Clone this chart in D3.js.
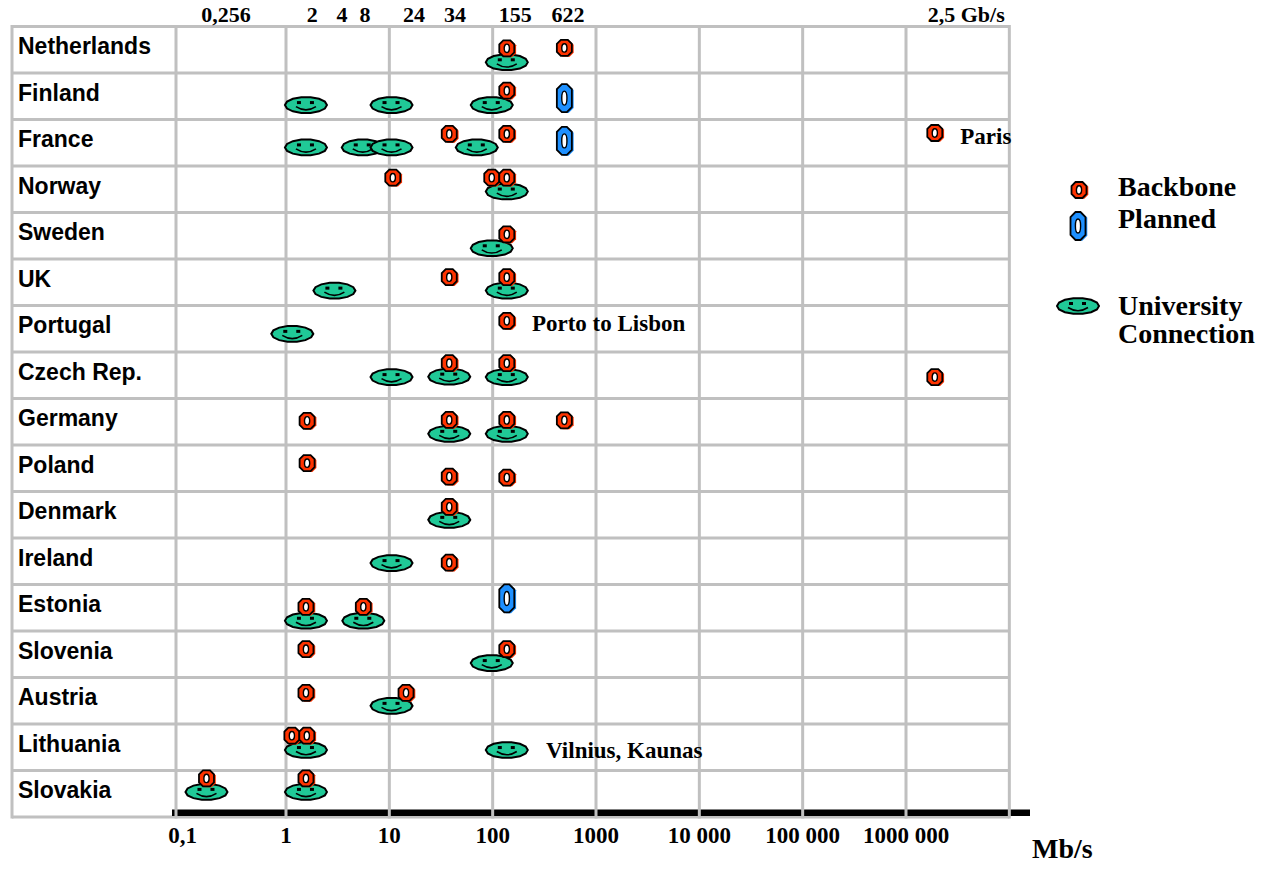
<!DOCTYPE html>
<html><head><meta charset="utf-8">
<script src="https://cdn.jsdelivr.net/npm/d3@7"></script>
<style>body{margin:0;background:#fff} svg{display:block}</style>
</head><body>
<svg id="c" width="1263" height="870"></svg>
<script>
// ---------------- DATA ----------------
const countries = ["Netherlands","Finland","France","Norway","Sweden","UK","Portugal","Czech Rep.",
  "Germany","Poland","Denmark","Ireland","Estonia","Slovenia","Austria","Lithuania","Slovakia"];

// [country, Mb/s, place inside the row (0 = top, 1 = bottom)]
const backbone = [
  ["Netherlands",137,0.47],["Netherlands",494,0.46],
  ["Finland",137,0.38],
  ["France",38,0.31],["France",137,0.31],["France",1.9e6,0.29],
  ["Norway",10.8,0.25],["Norway",98,0.25],["Norway",137,0.25],
  ["Sweden",137,0.47],
  ["UK",38,0.39],["UK",137,0.39],
  ["Portugal",137,0.33],
  ["Czech Rep.",38,0.24],["Czech Rep.",137,0.24],["Czech Rep.",1.9e6,0.54],
  ["Germany",1.6,0.48],["Germany",38,0.46],["Germany",137,0.46],["Germany",494,0.47],
  ["Poland",1.6,0.39],["Poland",38,0.68],["Poland",137,0.70],
  ["Denmark",38,0.33],
  ["Ireland",38,0.53],
  ["Estonia",1.56,0.48],["Estonia",5.6,0.48],
  ["Slovenia",1.56,0.39],["Slovenia",137,0.39],
  ["Austria",1.56,0.33],["Austria",14.5,0.33],
  ["Lithuania",1.14,0.25],["Lithuania",1.59,0.25],
  ["Slovakia",0.17,0.17],["Slovakia",1.56,0.17]
];
const planned = [["Finland",494,0.54],["France",494,0.46],["Estonia",137,0.30]];
const university = [
  ["Netherlands",137,0.77],
  ["Finland",1.56,0.69],["Finland",10.5,0.69],["Finland",98,0.69],
  ["France",1.56,0.60],["France",5.53,0.60],["France",10.5,0.60],["France",70.2,0.60],
  ["Norway",137,0.55],
  ["Sweden",98,0.77],
  ["UK",2.94,0.68],["UK",137,0.68],
  ["Portugal",1.15,0.61],
  ["Czech Rep.",10.5,0.54],["Czech Rep.",38,0.53],["Czech Rep.",137,0.54],
  ["Germany",38,0.76],["Germany",137,0.76],
  ["Denmark",38,0.61],
  ["Ireland",10.5,0.54],
  ["Estonia",1.56,0.78],["Estonia",5.6,0.78],
  ["Slovenia",98,0.69],
  ["Austria",10.5,0.61],
  ["Lithuania",1.56,0.56],["Lithuania",137,0.56],
  ["Slovakia",0.17,0.46],["Slovakia",1.56,0.46]
];
// [country, Mb/s where text starts, place inside row, text]
const notes = [["France",3.35e6,0.53,"Paris"],["Portugal",240,0.54,"Porto to Lisbon"],["Lithuania",329,0.73,"Vilnius, Kaunas"]];

const topTickLabels = ["0,256","2","4","8","24","34","155","622","2,5 Gb/s"];
const topTickAt     = [0.262, 1.79, 3.48, 5.82, 17.3, 43.3, 165, 537, 3.83e6];
const bottomTickValues = [0.1,1,10,100,1000,1e4,1e5,1e6];
const bottomTickLabels = ["0,1","1","10","100","1000","10 000","100 000","1000 000"];
const gridDecades = [1,10,100,1000,1e4,1e5,1e6,1e7];
const legendItems = [["backbone","Backbone"],["planned","Planned"],["university","University","Connection"]];

(function(){
// ---------------- LAYOUT ----------------
const svg = d3.select("#c");
const tableLeft = 12, labelRight = 176, tTop = 26.5, rowH = 46.5;
const tBottom = tTop + rowH * countries.length;
const x = d3.scaleLog().domain([1, 1e6]).range([286, 906]);
const yBand = d3.scaleBand().domain(countries).range([tTop, tBottom]);
const yIn = d3.scaleLinear().domain([0,1]).range([0, yBand.bandwidth()]);
const yOf = (c, f) => yBand(c) + yIn(f);
const tRight = x(1e7);
const GRID = "#c0c0c0";
const RED = "#ff3300", BLUE = "#1e90ff", GREEN = "#20c997";
const serif = "'Liberation Serif','Times New Roman',serif";
const sans = "'Liberation Sans',Arial,sans-serif";

// horizontal lines
const hLines = countries.map(c => yBand(c)).concat([tBottom]);
svg.append("g").selectAll("line").data(hLines).join("line")
  .attr("x1", tableLeft).attr("x2", tRight).attr("y1", d => d).attr("y2", d => d)
  .attr("stroke", GRID).attr("stroke-width", 3);

// black axis bar
svg.append("rect").attr("x", labelRight - 4).attr("y", tBottom - 7.5)
  .attr("width", 1030 - (labelRight - 4)).attr("height", 6.5).attr("fill", "#000");

// vertical lines
const vLines = [tableLeft, labelRight].concat(gridDecades.map(d => x(d)));
svg.append("g").selectAll("line").data(vLines).join("line")
  .attr("x1", d => d).attr("x2", d => d).attr("y1", tTop - 1.5).attr("y2", tBottom + 1.5)
  .attr("stroke", GRID).attr("stroke-width", 3);

// country labels
svg.append("g").selectAll("text").data(countries).join("text")
  .attr("x", 18).attr("y", d => yBand(d) + rowH * 0.6)
  .attr("font-family", sans).attr("font-weight", "bold").attr("font-size", 23)
  .text(d => d);

// top labels
svg.append("g").selectAll("text").data(topTickLabels).join("text")
  .attr("x", (d, i) => x(topTickAt[i])).attr("y", 22)
  .attr("text-anchor", "middle").attr("font-family", serif).attr("font-weight", "bold")
  .attr("font-size", 22).text(d => d);

// bottom labels
svg.append("g").selectAll("text").data(bottomTickValues).join("text")
  .attr("x", d => x(d)).attr("y", 843)
  .attr("text-anchor", "middle").attr("font-family", serif).attr("font-weight", "bold")
  .attr("font-size", 23).text((d, i) => bottomTickLabels[i]);
svg.append("text").attr("x", 1032).attr("y", 858).attr("font-family", serif)
  .attr("font-weight", "bold").attr("font-size", 28).text("Mb/s");

// ---------------- MARKERS ----------------
function octa(w, h, c) {
  const a = w/2, b = h/2;
  return `M${-a+c},${-b}L${a-c},${-b}L${a},${-b+c}L${a},${b-c}L${a-c},${b}L${-a+c},${b}L${-a},${b-c}L${-a},${-b+c}Z`;
}
function blobPath(rx, ry, n) {
  const pts = d3.range(n).map(i => {
    const t = i / n * 2 * Math.PI;
    return [rx * Math.cos(t), ry * Math.sin(t)];
  });
  return "M" + pts.map(p => p.join(",")).join("L") + "Z";
}
function drawRing(g, color, w, h, c, hx, hy) {
  g.append("path").attr("d", octa(w, h, c)).attr("transform", "translate(1.8,0.8)").attr("fill", color);
  g.append("path").attr("d", octa(w, h, c)).attr("fill", color).attr("stroke", "#000").attr("stroke-width", 1.8);
  g.append("ellipse").attr("rx", hx).attr("ry", hy).attr("fill", "#fff").attr("stroke", "#000").attr("stroke-width", 1.4);
}
function drawUniversity(g) {
  g.append("path").attr("d", blobPath(21, 8, 14)).attr("fill", GREEN).attr("stroke", "#000").attr("stroke-width", 2);
  g.append("rect").attr("x", -9).attr("y", -4).attr("width", 4).attr("height", 3).attr("fill", "#000");
  g.append("rect").attr("x", 4).attr("y", -4).attr("width", 4).attr("height", 3).attr("fill", "#000");
  g.append("path").attr("d", "M-10,1.5Q0,8 10,1.5").attr("fill", "none").attr("stroke", "#000").attr("stroke-width", 1.6);
}
const drawBackbone = g => drawRing(g, RED, 15, 16, 4, 2.6, 4.2);
const drawPlanned = g => drawRing(g, BLUE, 15, 28, 5, 2.6, 7);
const drawers = {backbone: drawBackbone, planned: drawPlanned, university: drawUniversity};

const layer = svg.append("g");
layer.selectAll("g.u").data(university).join("g").attr("class", "u")
  .attr("transform", d => `translate(${x(d[1])},${yOf(d[0], d[2])})`).each(function(){ drawUniversity(d3.select(this)); });
layer.selectAll("g.b").data(backbone).join("g").attr("class", "b")
  .attr("transform", d => `translate(${x(d[1])},${yOf(d[0], d[2])})`).each(function(){ drawBackbone(d3.select(this)); });
layer.selectAll("g.p").data(planned).join("g").attr("class", "p")
  .attr("transform", d => `translate(${x(d[1])},${yOf(d[0], d[2])})`).each(function(){ drawPlanned(d3.select(this)); });

// notes
svg.append("g").selectAll("text").data(notes).join("text")
  .attr("x", d => x(d[1])).attr("y", d => yOf(d[0], d[2]))
  .attr("font-family", serif).attr("font-weight", "bold").attr("font-size", 23).text(d => d[3]);

// ---------------- LEGEND ----------------
const legendMarkerPos = [[1079,190],[1078,226],[1078,306]];
const legendTextY = [196, 228, 315];
legendItems.forEach((it, i) => {
  const g = svg.append("g").attr("transform", `translate(${legendMarkerPos[i][0]},${legendMarkerPos[i][1]})`);
  drawers[it[0]](g);
  const t = svg.append("text").attr("x", 1118).attr("y", legendTextY[i])
    .attr("font-family", serif).attr("font-weight", "bold").attr("font-size", 28);
  it.slice(1).forEach((s, k) => t.append("tspan").attr("x", 1118).attr("dy", k ? 28 : 0).text(s));
});
})();
</script>
</body></html>
